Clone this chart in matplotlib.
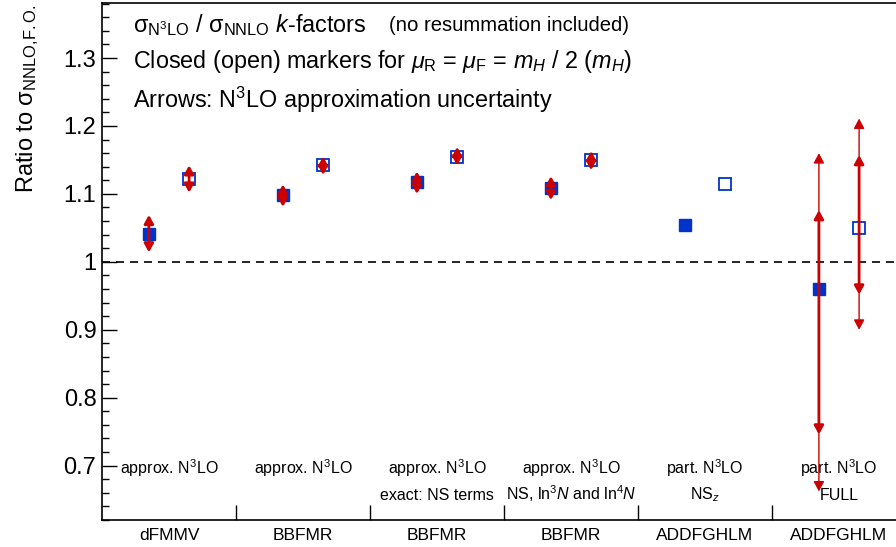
import matplotlib
matplotlib.use("Agg")
import matplotlib.pyplot as plt
from matplotlib.ticker import MultipleLocator, FormatStrFormatter

plt.rcParams['font.family'] = ['Liberation Sans', 'DejaVu Sans']
plt.rcParams['mathtext.fontset'] = 'custom'
plt.rcParams['mathtext.rm'] = 'Liberation Sans'
plt.rcParams['mathtext.it'] = 'Liberation Sans:italic'
plt.rcParams['mathtext.bf'] = 'Liberation Sans:bold'

# groups (bottom labels) and their inner descriptions
groups = ["dFMMV", "BBFMR", "BBFMR", "BBFMR", "ADDFGHLM", "ADDFGHLM"]
desc1 = ["approx. N$^3$LO"] * 4 + ["part. N$^3$LO"] * 2
desc2 = ["", "", "exact: NS terms", "NS, ln$^3$$N$ and ln$^4$$N$", "NS$_z$", "FULL"]

# k-factors: closed = mu = mH/2, open = mu = mH
k_closed = [1.041, 1.098, 1.117, 1.108, 1.054, 0.960]
k_open = [1.122, 1.142, 1.155, 1.150, 1.115, 1.050]

# approximation uncertainty (arrow ends), None = no arrow
unc_closed = [(1.014, 1.069), (1.081, 1.114), (1.100, 1.133), (1.091, 1.126), None, (0.746, 1.076)]
unc_open = [(1.102, 1.142), (1.128, 1.155), (1.142, 1.169), (1.135, 1.163), None, (0.952, 1.157)]
# outer (thin) uncertainty for the FULL result
unc_closed_outer = (0.662, 1.160)
unc_open_outer = (0.900, 1.211)

blue = '#0033cc'
red = '#cc0000'

fig = plt.figure(figsize=(8.96, 5.47), dpi=100)
ax = fig.add_axes([102/896, 27/547, 804/896, 517/547])

n = len(groups)
xc = [i + 0.35 for i in range(n)]
xo = [i + 0.65 for i in range(n)]


def arrow(x, lo, hi, lw, hw, hl):
    ax.annotate("", xy=(x, hi), xytext=(x, lo),
                arrowprops=dict(arrowstyle="<|-|>,head_width=%g,head_length=%g" % (hw, hl),
                                color=red, lw=lw, shrinkA=0, shrinkB=0), zorder=4)


for i in range(n):
    if unc_closed[i]:
        arrow(xc[i], unc_closed[i][0], unc_closed[i][1], 2.0, 0.28, 0.5)
    if unc_open[i]:
        arrow(xo[i], unc_open[i][0], unc_open[i][1], 2.0, 0.28, 0.5)
arrow(xc[5], unc_closed_outer[0], unc_closed_outer[1], 1.0, 0.32, 0.6)
arrow(xo[5], unc_open_outer[0], unc_open_outer[1], 1.0, 0.32, 0.6)

ax.plot(xc, k_closed, 's', color=blue, ms=8, zorder=3)
ax.plot(xo, k_open, 's', mfc='none', mec=blue, mew=1.3, ms=8, zorder=3)

ax.axhline(1.0, color='k', lw=1.2, dashes=(4.8, 3.6), zorder=1)

ax.set_xlim(0, n)
ax.set_ylim(0.62, 1.381)

# y axis
ax.yaxis.set_major_locator(MultipleLocator(0.1))
ax.yaxis.set_minor_locator(MultipleLocator(0.02))
ax.yaxis.set_major_formatter(FormatStrFormatter('%g'))
ax.tick_params(axis='y', which='major', direction='in', length=11, width=1, labelsize=17, pad=4)
ax.tick_params(axis='y', which='minor', direction='in', length=5, width=1)

# x axis: dividers as ticks, group names as minor-tick labels
ax.set_xticks(range(1, n))
ax.set_xticklabels([])
ax.tick_params(axis='x', which='major', direction='in', length=11, width=1)
ax.set_xticks([i + 0.5 for i in range(n)], minor=True)
ax.set_xticklabels(groups, minor=True, fontsize=12.5)
ax.tick_params(axis='x', which='minor', length=0, pad=6)

for s in ax.spines.values():
    s.set_linewidth(1.2)

for i in range(n):
    ax.text(i + 0.5, 0.688, desc1[i], ha='center', va='baseline', fontsize=11.5)
    if desc2[i]:
        ax.text(i + 0.5, 0.650, desc2[i], ha='center', va='baseline', fontsize=11.5)

ax.text(0.0386, 0.957, "σ$_{\\mathrm{N^3LO}}$ / σ$_{\\mathrm{NNLO}}$ $k$-factors",
        transform=ax.transAxes, ha='left', va='center', fontsize=16.8)
ax.text(0.357, 0.957, "(no resummation included)",
        transform=ax.transAxes, ha='left', va='center', fontsize=14.6)
ax.text(0.0386, 0.886, "Closed (open) markers for $\\mu_{\\mathrm{R}}$ = $\\mu_{\\mathrm{F}}$ = $m_H$ / 2 ($m_H$)",
        transform=ax.transAxes, ha='left', va='center', fontsize=16.8)
ax.text(0.0386, 0.812, "Arrows: N$^3$LO approximation uncertainty",
        transform=ax.transAxes, ha='left', va='center', fontsize=16.8)

fig.text(28/896, 1 - 4/547, "Ratio to σ$_{\\mathrm{NNLO{,}F.O.}}$", rotation=90,
         ha='center', va='top', fontsize=17)

fig.savefig("out.png", dpi=100)
